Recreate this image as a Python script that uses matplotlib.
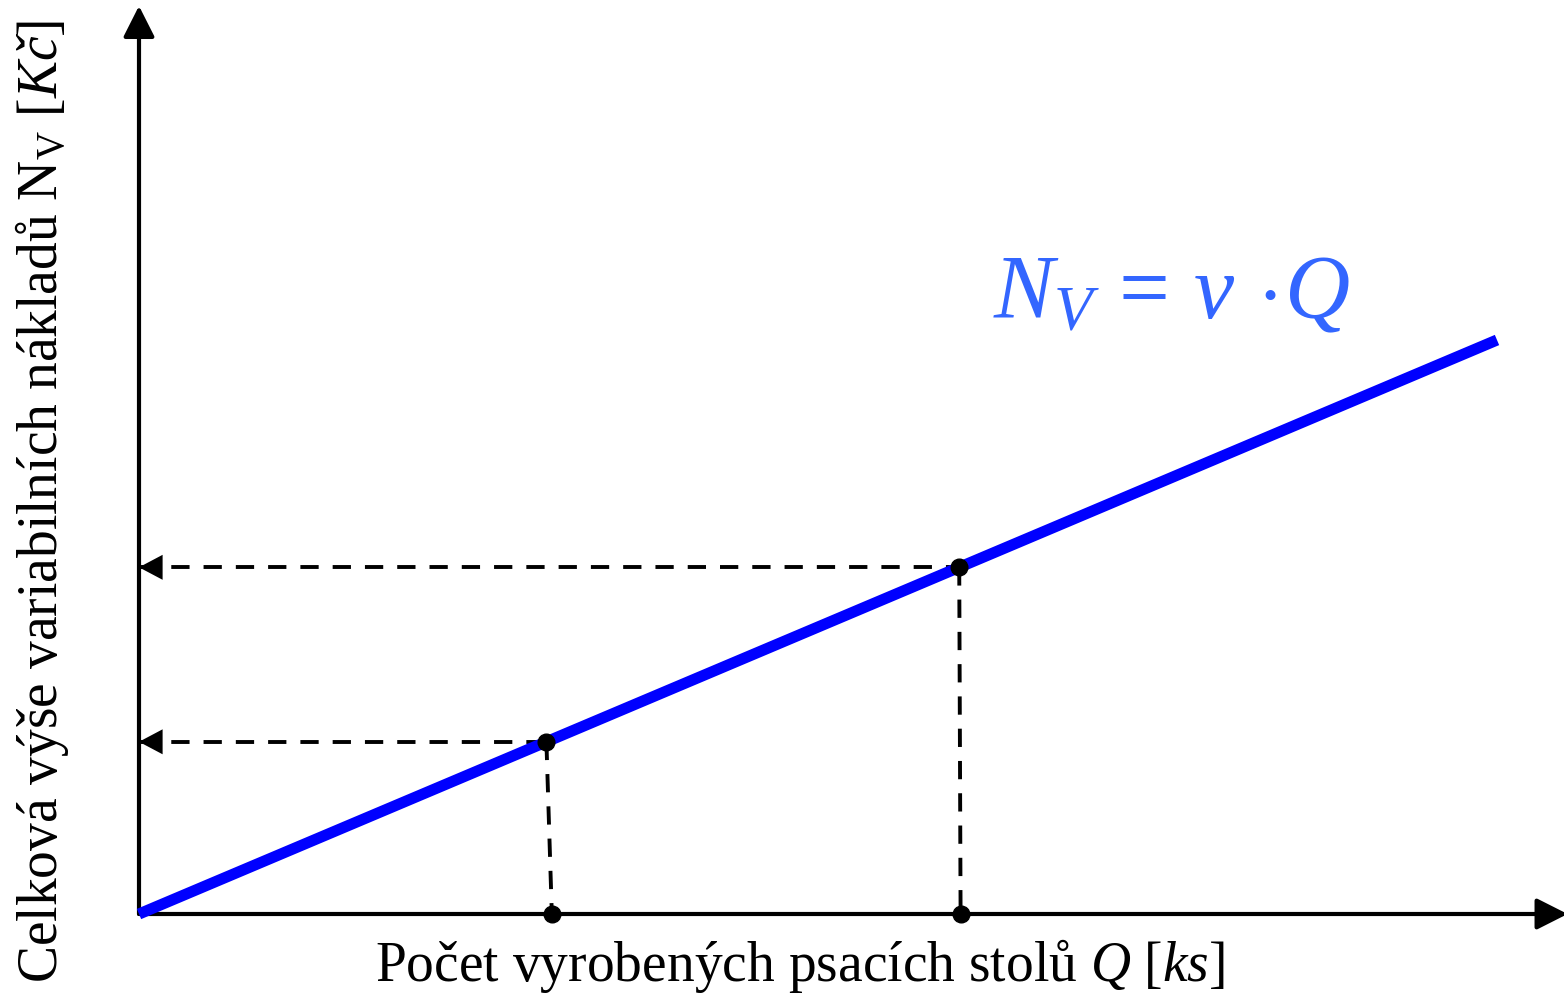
import matplotlib
matplotlib.use("Agg")
import matplotlib.pyplot as plt

plt.rcParams['font.family'] = ['Liberation Serif', 'DejaVu Serif']
plt.rcParams['mathtext.fontset'] = 'custom'
plt.rcParams['mathtext.rm'] = 'Liberation Serif'
plt.rcParams['mathtext.it'] = 'Liberation Serif:italic'

# Data (Q in relative units, N_V = v * Q)
v = 1.0
q_line = [0, 10]
q_points = [3.0, 6.04]     # points marked on the cost line
q_base = [3.04, 6.05]      # where the dashed drops meet the Q axis
q_max = 10.49              # end of the Q axis arrow
n_max = 15.77              # end of the N axis arrow

n_line = [v * q for q in q_line]
n_points = [v * q for q in q_points]

BLUE = '#0000ff'
TEXT_BLUE = '#3366ff'

fig = plt.figure(figsize=(15.64, 9.94), dpi=100)
ax = fig.add_axes([139 / 1564, 80 / 994, 1425 / 1564, 914 / 994])
ax.set_xlim(0, 1425 / 135.8)
ax.set_ylim(0, 914 / 57.4)
ax.axis('off')

# axes with arrows
axis_arrow = dict(arrowstyle='-|>,head_length=0.95,head_width=0.48', mutation_scale=20,
                  color='black', lw=3, shrinkA=0, shrinkB=0)
ax.annotate('', xy=(q_max + 0.03, 0), xytext=(0, 0), arrowprops=axis_arrow, annotation_clip=False)
ax.annotate('', xy=(0, n_max + 0.05), xytext=(0, 0), arrowprops=axis_arrow, annotation_clip=False)

# dashed guides
dash = dict(color='black', lw=2.8, dashes=(4.7, 3.6), zorder=3)
for q, n, qb in zip(q_points, n_points, q_base):
    ax.plot([0, q], [n, n], **dash)
    ax.plot([q, qb], [n, 0], **dash)
    ax.annotate('', xy=(0, n), xytext=(0.2, n), annotation_clip=False,
                arrowprops=dict(arrowstyle='-|>,head_length=0.85,head_width=0.45',
                                mutation_scale=20, color='black', lw=0,
                                shrinkA=0, shrinkB=0), zorder=5)

# cost line
ax.plot(q_line, n_line, color=BLUE, lw=8, solid_capstyle='butt', zorder=4, clip_on=False)

# points
ax.plot(q_points, n_points, 'o', color='black', ms=12, zorder=6, clip_on=False)
ax.plot(q_base, [0, 0], 'o', color='black', ms=12, zorder=6, clip_on=False)

# formula
fig.text(993 / 1564, 1 - 318 / 994, r'$N_V\,=\,v\,\cdot\!Q$', color=TEXT_BLUE,
         fontsize=65, va='baseline', ha='left')

# axis labels
fig.text(800 / 1564, 1 - 981 / 994,
         r'Počet vyrobených psacích stolů $\mathit{Q\ [ks]}$',
         fontsize=40, ha='center', va='baseline')
fig.text(42 / 1564, 1 - 501 / 994,
         r'Celková výše variabilních nákladů N$_{\mathrm{V}}$ $\mathit{[Kč]}$',
         fontsize=40, rotation=90, ha='center', va='center')

fig.savefig('out.png', dpi=100)
